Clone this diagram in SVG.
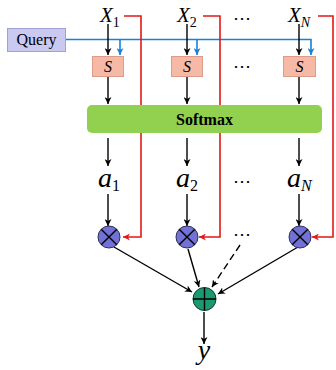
<svg xmlns="http://www.w3.org/2000/svg" width="336" height="370" viewBox="0 0 336 370">
<defs>
<marker id="ak" viewBox="0 0 10 10" refX="10" refY="5" markerWidth="7" markerHeight="7" markerUnits="userSpaceOnUse" orient="auto"><path d="M0,0 L10,5 L0,10 L3,5 Z" fill="#000"/></marker>
<marker id="ab" viewBox="0 0 10 10" refX="10" refY="5" markerWidth="7" markerHeight="7" markerUnits="userSpaceOnUse" orient="auto"><path d="M0,0 L10,5 L0,10 L3,5 Z" fill="#1a7fd6"/></marker>
<marker id="ar" viewBox="0 0 10 10" refX="10" refY="5" markerWidth="7" markerHeight="7" markerUnits="userSpaceOnUse" orient="auto"><path d="M0,0 L10,5 L0,10 L3,5 Z" fill="#e01818"/></marker>
<style>
.t{font-family:"Liberation Serif","Times New Roman",serif;fill:#000}
.it{font-style:italic}
.k{stroke:#000;stroke-width:1.4;fill:none}
.b{stroke:#1a7fd6;stroke-width:1.6;fill:none}
.r{stroke:#e01818;stroke-width:1.6;fill:none}
.s{fill:#f6b9a6;stroke:#dc9c8c;stroke-width:1}
.m{fill:#7272d6;stroke:#303060;stroke-width:1}
.p{fill:#1b9a72;stroke:#103a2c;stroke-width:1}
.dots{font-family:"Liberation Serif",serif;font-size:18px;fill:#000}
</style>
</defs>
<g id="connectors">
<path class="b" d="M66,39.5 H311 V55" marker-end="url(#ab)"/>
<path class="b" d="M120,39.5 V55" marker-end="url(#ab)"/>
<path class="b" d="M197,39.5 V55" marker-end="url(#ab)"/>
<path class="r" d="M124,16 H141 V237 H123" marker-end="url(#ar)"/>
<path class="r" d="M203,16 H220 V237 H199" marker-end="url(#ar)"/>
<path class="r" d="M318,16 H333 V237 H312" marker-end="url(#ar)"/>
<path class="k" d="M108,24 V55" marker-end="url(#ak)"/>
<path class="k" d="M187,24 V55" marker-end="url(#ak)"/>
<path class="k" d="M299,24 V55" marker-end="url(#ak)"/>
<path class="k" d="M108,77 V104" marker-end="url(#ak)"/>
<path class="k" d="M187,77 V104" marker-end="url(#ak)"/>
<path class="k" d="M299,77 V104" marker-end="url(#ak)"/>
<path class="k" d="M108,138 V166" marker-end="url(#ak)"/>
<path class="k" d="M187,138 V166" marker-end="url(#ak)"/>
<path class="k" d="M299,138 V166" marker-end="url(#ak)"/>
<path class="k" d="M108,194 V226" marker-end="url(#ak)"/>
<path class="k" d="M187,194 V226" marker-end="url(#ak)"/>
<path class="k" d="M299,194 V226" marker-end="url(#ak)"/>
<path class="k" d="M114,247 L192,292" marker-end="url(#ak)"/>
<path class="k" d="M188,249 L199,287" marker-end="url(#ak)"/>
<path class="k" d="M240,245 L212,287" stroke-dasharray="7,4" marker-end="url(#ak)"/>
<path class="k" d="M298,247 L218,294" marker-end="url(#ak)"/>
<path class="k" d="M204,312 V344" marker-end="url(#ak)"/>
</g>
<g id="query"><rect x="7.5" y="28.5" width="58" height="23" fill="#c9c9f1" stroke="#a0a0d4"/><text class="t" x="36.5" y="45" font-size="16" text-anchor="middle">Query</text></g>
<g id="x1"><text class="t it" x="100" y="22" font-size="21">X<tspan font-size="14" font-style="normal" dy="5">1</tspan></text></g>
<g id="x2"><text class="t it" x="177" y="22" font-size="21">X<tspan font-size="14" font-style="normal" dy="5">2</tspan></text></g>
<g id="xn"><text class="t it" x="288" y="22" font-size="21">X<tspan font-size="14" dy="5">N</tspan></text></g>
<g id="s1"><rect class="s" x="92.5" y="56.5" width="31" height="20"/><text class="t it" x="108" y="72" font-size="16" text-anchor="middle">S</text></g>
<g id="s2"><rect class="s" x="171.5" y="56.5" width="31" height="20"/><text class="t it" x="187" y="72" font-size="16" text-anchor="middle">S</text></g>
<g id="sn"><rect class="s" x="283.5" y="56.5" width="32" height="20"/><text class="t it" x="299.5" y="72" font-size="16" text-anchor="middle">S</text></g>
<g id="softmax"><rect x="87" y="105" width="235" height="28" rx="5" fill="#92d050"/><text class="t" x="204.5" y="124.5" font-size="16" font-weight="bold" text-anchor="middle">Softmax</text></g>
<g id="a1"><text class="t it" x="98" y="187" font-size="28">a<tspan font-size="16" font-style="normal" dy="4">1</tspan></text></g>
<g id="a2"><text class="t it" x="176" y="187" font-size="28">a<tspan font-size="16" font-style="normal" dy="4">2</tspan></text></g>
<g id="an"><text class="t it" x="287" y="187" font-size="28">a<tspan font-size="16" dy="4">N</tspan></text></g>
<g id="m1"><circle class="m" cx="109" cy="237" r="11"/><path class="k" d="M101.2,229.2 L116.8,244.8 M116.8,229.2 L101.2,244.8" stroke-width="1"/></g>
<g id="m2"><circle class="m" cx="187" cy="237" r="11"/><path class="k" d="M179.2,229.2 L194.8,244.8 M194.8,229.2 L179.2,244.8" stroke-width="1"/></g>
<g id="mn"><circle class="m" cx="300" cy="237" r="11"/><path class="k" d="M292.2,229.2 L307.8,244.8 M307.8,229.2 L292.2,244.8" stroke-width="1"/></g>
<g id="sum"><circle class="p" cx="204.5" cy="299" r="11.5"/><path class="k" d="M193,299 H216 M204.5,287.5 V310.5" stroke-width="1.2"/></g>
<g id="y"><text class="t it" x="204" y="359" font-size="28" text-anchor="middle">y</text></g>
<g id="ellipses">
<text class="dots" x="242" y="24" text-anchor="middle">⋯</text>
<text class="dots" x="242" y="72" text-anchor="middle">⋯</text>
<text class="dots" x="242" y="187" text-anchor="middle">⋯</text>
<text class="dots" x="242" y="240" text-anchor="middle">⋯</text>
</g>
</svg>
